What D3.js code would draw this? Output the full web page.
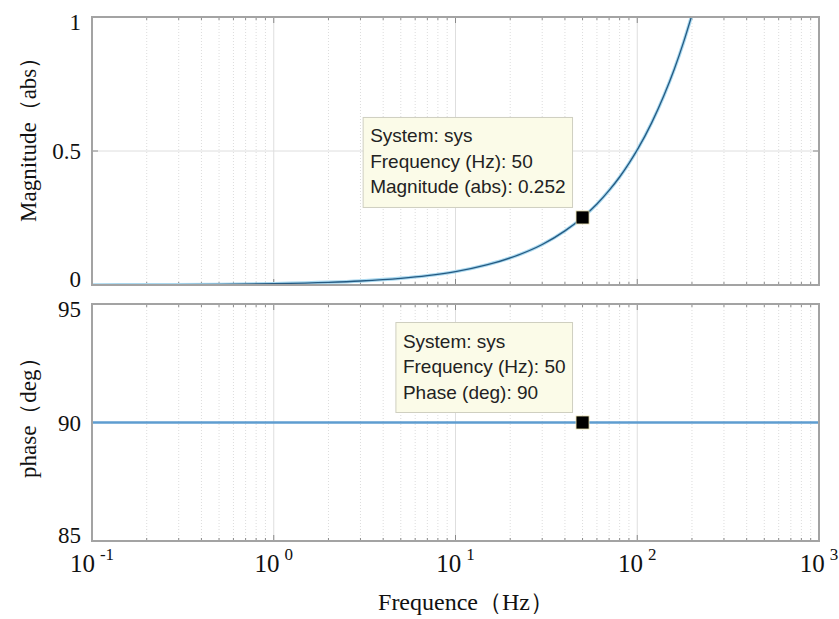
<!DOCTYPE html>
<html>
<head>
<meta charset="utf-8">
<script src="https://cdn.jsdelivr.net/npm/d3@7"></script>
<style>
  body { margin: 0; background: #fff; }
  svg { display: block; }
</style>
</head>
<body>
<svg id="chart"></svg>
<script>
const size = {w: 839, h: 619};

// magnitude curve (Hz, abs)
const magFreq = [0.1, 0.2, 0.5, 1, 2, 3, 5, 7, 10, 15, 20, 30, 40, 50, 60, 70, 80, 90, 100, 120, 140, 160, 180, 200];
const magAbs = [0.0005, 0.001, 0.0025, 0.005, 0.01, 0.015, 0.025, 0.035, 0.05, 0.076, 0.101, 0.151, 0.202, 0.252, 0.302, 0.353, 0.403, 0.454, 0.504, 0.605, 0.706, 0.806, 0.907, 1.008];

// phase curve (Hz, deg)
const phaseFreq = [0.1, 1, 10, 100, 1000];
const phaseDeg = [90, 90, 90, 90, 90];

// ticks
const decades = [0.1, 1, 10, 100, 1000];
const decadeExp = ['-1', '0', '1', '2', '3'];
const magTicks = [0, 0.5, 1];
const magTickLabels = ['0', '0.5', '1'];
const phaseTicks = [85, 90, 95];
const phaseTickLabels = ['85', '90', '95'];

// data tips
const tipFreq = 50;
const tipMag = 0.252;
const tipPhase = 90;
const magTipText = ['System: sys', 'Frequency (Hz): 50', 'Magnitude (abs): 0.252'];
const phaseTipText = ['System: sys', 'Frequency (Hz): 50', 'Phase (deg): 90'];

const svg = d3.select('#chart').attr('width', size.w).attr('height', size.h);

const plot = {left: 92, right: 819};
const x = d3.scaleLog().domain([0.1, 1000]).range([plot.left, plot.right]);
const yMag = d3.scaleLinear().domain([0, 1]).range([285, 17]);
const yPhase = d3.scaleLinear().domain([85, 95]).range([541, 304]);

// minor ticks 2..9 in every decade
let minor = [];
decades.slice(0, -1).forEach(d => {
    for (let k = 2; k <= 9; k++) minor.push(d * k);
});

const serif = '"Liberation Serif", "Times New Roman", serif';
const sans = '"Liberation Sans", Arial, sans-serif';

function drawPanel(y, ticks, labels, id) {
    const g = svg.append('g');
    const [y1, y0] = y.range();   // y1 bottom, y0 top

    // clip for the data
    svg.append('clipPath').attr('id', id)
        .append('rect')
        .attr('x', plot.left).attr('y', y0)
        .attr('width', plot.right - plot.left).attr('height', y1 - y0);

    // minor grid (dotted)
    g.selectAll('line.minor')
        .data(minor)
        .join('line')
        .attr('x1', d => x(d)).attr('x2', d => x(d))
        .attr('y1', y0).attr('y2', y1)
        .attr('stroke', '#dcdcdc')
        .attr('stroke-width', 1)
        .attr('stroke-dasharray', '1,2');

    // major grid
    g.selectAll('line.major')
        .data(decades.slice(1, -1))
        .join('line')
        .attr('x1', d => x(d)).attr('x2', d => x(d))
        .attr('y1', y0).attr('y2', y1)
        .attr('stroke', '#dedede')
        .attr('stroke-width', 1);

    g.selectAll('line.hgrid')
        .data(ticks.slice(1, -1))
        .join('line')
        .attr('x1', plot.left).attr('x2', plot.right)
        .attr('y1', d => y(d)).attr('y2', d => y(d))
        .attr('stroke', '#dedede')
        .attr('stroke-width', 1);

    // tick marks, top and bottom, inward
    [y0, y1].forEach(edge => {
        const dir = edge === y0 ? 1 : -1;
        g.append('g').selectAll('line')
            .data(minor)
            .join('line')
            .attr('x1', d => x(d)).attr('x2', d => x(d))
            .attr('y1', edge).attr('y2', edge + dir * 3)
            .attr('stroke', '#8a8a8a');
        g.append('g').selectAll('line')
            .data(decades)
            .join('line')
            .attr('x1', d => x(d)).attr('x2', d => x(d))
            .attr('y1', edge).attr('y2', edge + dir * 6)
            .attr('stroke', '#8a8a8a');
    });
    [plot.left, plot.right].forEach(edge => {
        const dir = edge === plot.left ? 1 : -1;
        g.append('g').selectAll('line')
            .data(ticks)
            .join('line')
            .attr('x1', edge).attr('x2', edge + dir * 6)
            .attr('y1', d => y(d)).attr('y2', d => y(d))
            .attr('stroke', '#8a8a8a');
    });

    // y tick labels, kept inside the panel
    g.selectAll('text.ytick')
        .data(ticks)
        .join('text')
        .attr('x', 81)
        .attr('y', d => Math.min(Math.max(y(d), y0 + 5), y1 - 6))
        .attr('dy', '0.35em')
        .attr('text-anchor', 'end')
        .style('font-family', serif)
        .style('font-size', '23px')
        .attr('fill', '#111')
        .text((d, i) => labels[i]);

    return g;
}

const magG = drawPanel(yMag, magTicks, magTickLabels, 'clipMag');
const phaseG = drawPanel(yPhase, phaseTicks, phaseTickLabels, 'clipPhase');

// magnitude curve
const magData = magFreq.map((f, i) => ({f: f, v: magAbs[i]}));
const magLine = d3.line()
    .x(d => x(d.f))
    .y(d => yMag(d.v))
    .curve(d3.curveMonotoneX);

const magPath = svg.append('g').attr('clip-path', 'url(#clipMag)');
magPath.append('path')
    .datum(magData)
    .attr('d', magLine)
    .attr('fill', 'none')
    .attr('stroke', '#a9d8ef')
    .attr('stroke-width', 3.4);
magPath.append('path')
    .datum(magData)
    .attr('d', magLine)
    .attr('fill', 'none')
    .attr('stroke', '#245a82')
    .attr('stroke-width', 1.3);

// phase curve
const phaseData = phaseFreq.map((f, i) => ({f: f, v: phaseDeg[i]}));
svg.append('g').attr('clip-path', 'url(#clipPhase)')
    .append('path')
    .datum(phaseData)
    .attr('d', d3.line().x(d => x(d.f)).y(d => yPhase(d.v)))
    .attr('fill', 'none')
    .attr('stroke', '#5e9dd0')
    .attr('stroke-width', 2.6);

// frames
[yMag, yPhase].forEach(y => {
    const [y1, y0] = y.range();
    svg.append('rect')
        .attr('x', plot.left).attr('y', y0)
        .attr('width', plot.right - plot.left).attr('height', y1 - y0)
        .attr('fill', 'none')
        .attr('stroke', '#a3a3a3')
        .attr('stroke-width', 2);
});

// data tips
function dataTip(mx, my, lines) {
    const g = svg.append('g');
    const rect = g.append('rect');
    const txt = g.selectAll('text')
        .data(lines)
        .join('text')
        .style('font-family', sans)
        .style('font-size', '19px')
        .attr('fill', '#222')
        .text(d => d);
    let wMax = 0;
    txt.each(function () { wMax = Math.max(wMax, this.getComputedTextLength()); });
    const bw = wMax + 14, bh = 90;
    const bx = mx - 10 - bw, by = my - 10 - bh;
    rect.attr('x', bx).attr('y', by)
        .attr('width', bw).attr('height', bh)
        .attr('fill', '#fbfbe8')
        .attr('stroke', '#cfcfc0')
        .attr('stroke-width', 1);
    txt.attr('x', bx + 7)
        .attr('y', (d, i) => by + 25 + i * 25.5);
    g.append('rect')
        .attr('x', mx - 6.5).attr('y', my - 6.5)
        .attr('width', 13).attr('height', 13)
        .attr('fill', '#000')
        .attr('stroke', '#e8e0b0')
        .attr('stroke-width', 0.8);
}

dataTip(x(tipFreq), yMag(tipMag), magTipText);
dataTip(x(tipFreq), yPhase(tipPhase), phaseTipText);

// x tick labels 10^n
const xl = svg.append('g').selectAll('text')
    .data(decades)
    .join('text')
    .attr('x', d => x(d))
    .attr('y', 572)
    .attr('text-anchor', 'middle')
    .style('font-family', serif)
    .style('font-size', '25px')
    .attr('fill', '#111');
xl.append('tspan').text('10');
xl.append('tspan')
    .attr('dx', 5)
    .attr('dy', -12)
    .style('font-size', '17px')
    .text((d, i) => decadeExp[i]);

// axis titles
svg.append('text')
    .attr('x', 466)
    .attr('y', 610)
    .attr('text-anchor', 'middle')
    .style('font-family', serif)
    .style('font-size', '24px')
    .attr('fill', '#111')
    .text('Frequence（Hz）');

svg.append('text')
    .attr('transform', 'translate(36,222) rotate(-90)')
    .attr('text-anchor', 'start')
    .style('font-family', serif)
    .style('font-size', '23px')
    .attr('fill', '#111')
    .text('Magnitude（abs）');

svg.append('text')
    .attr('transform', 'translate(36,478) rotate(-90)')
    .attr('text-anchor', 'start')
    .style('font-family', serif)
    .style('font-size', '23px')
    .attr('fill', '#111')
    .text('phase（deg）');
</script>
</body>
</html>
